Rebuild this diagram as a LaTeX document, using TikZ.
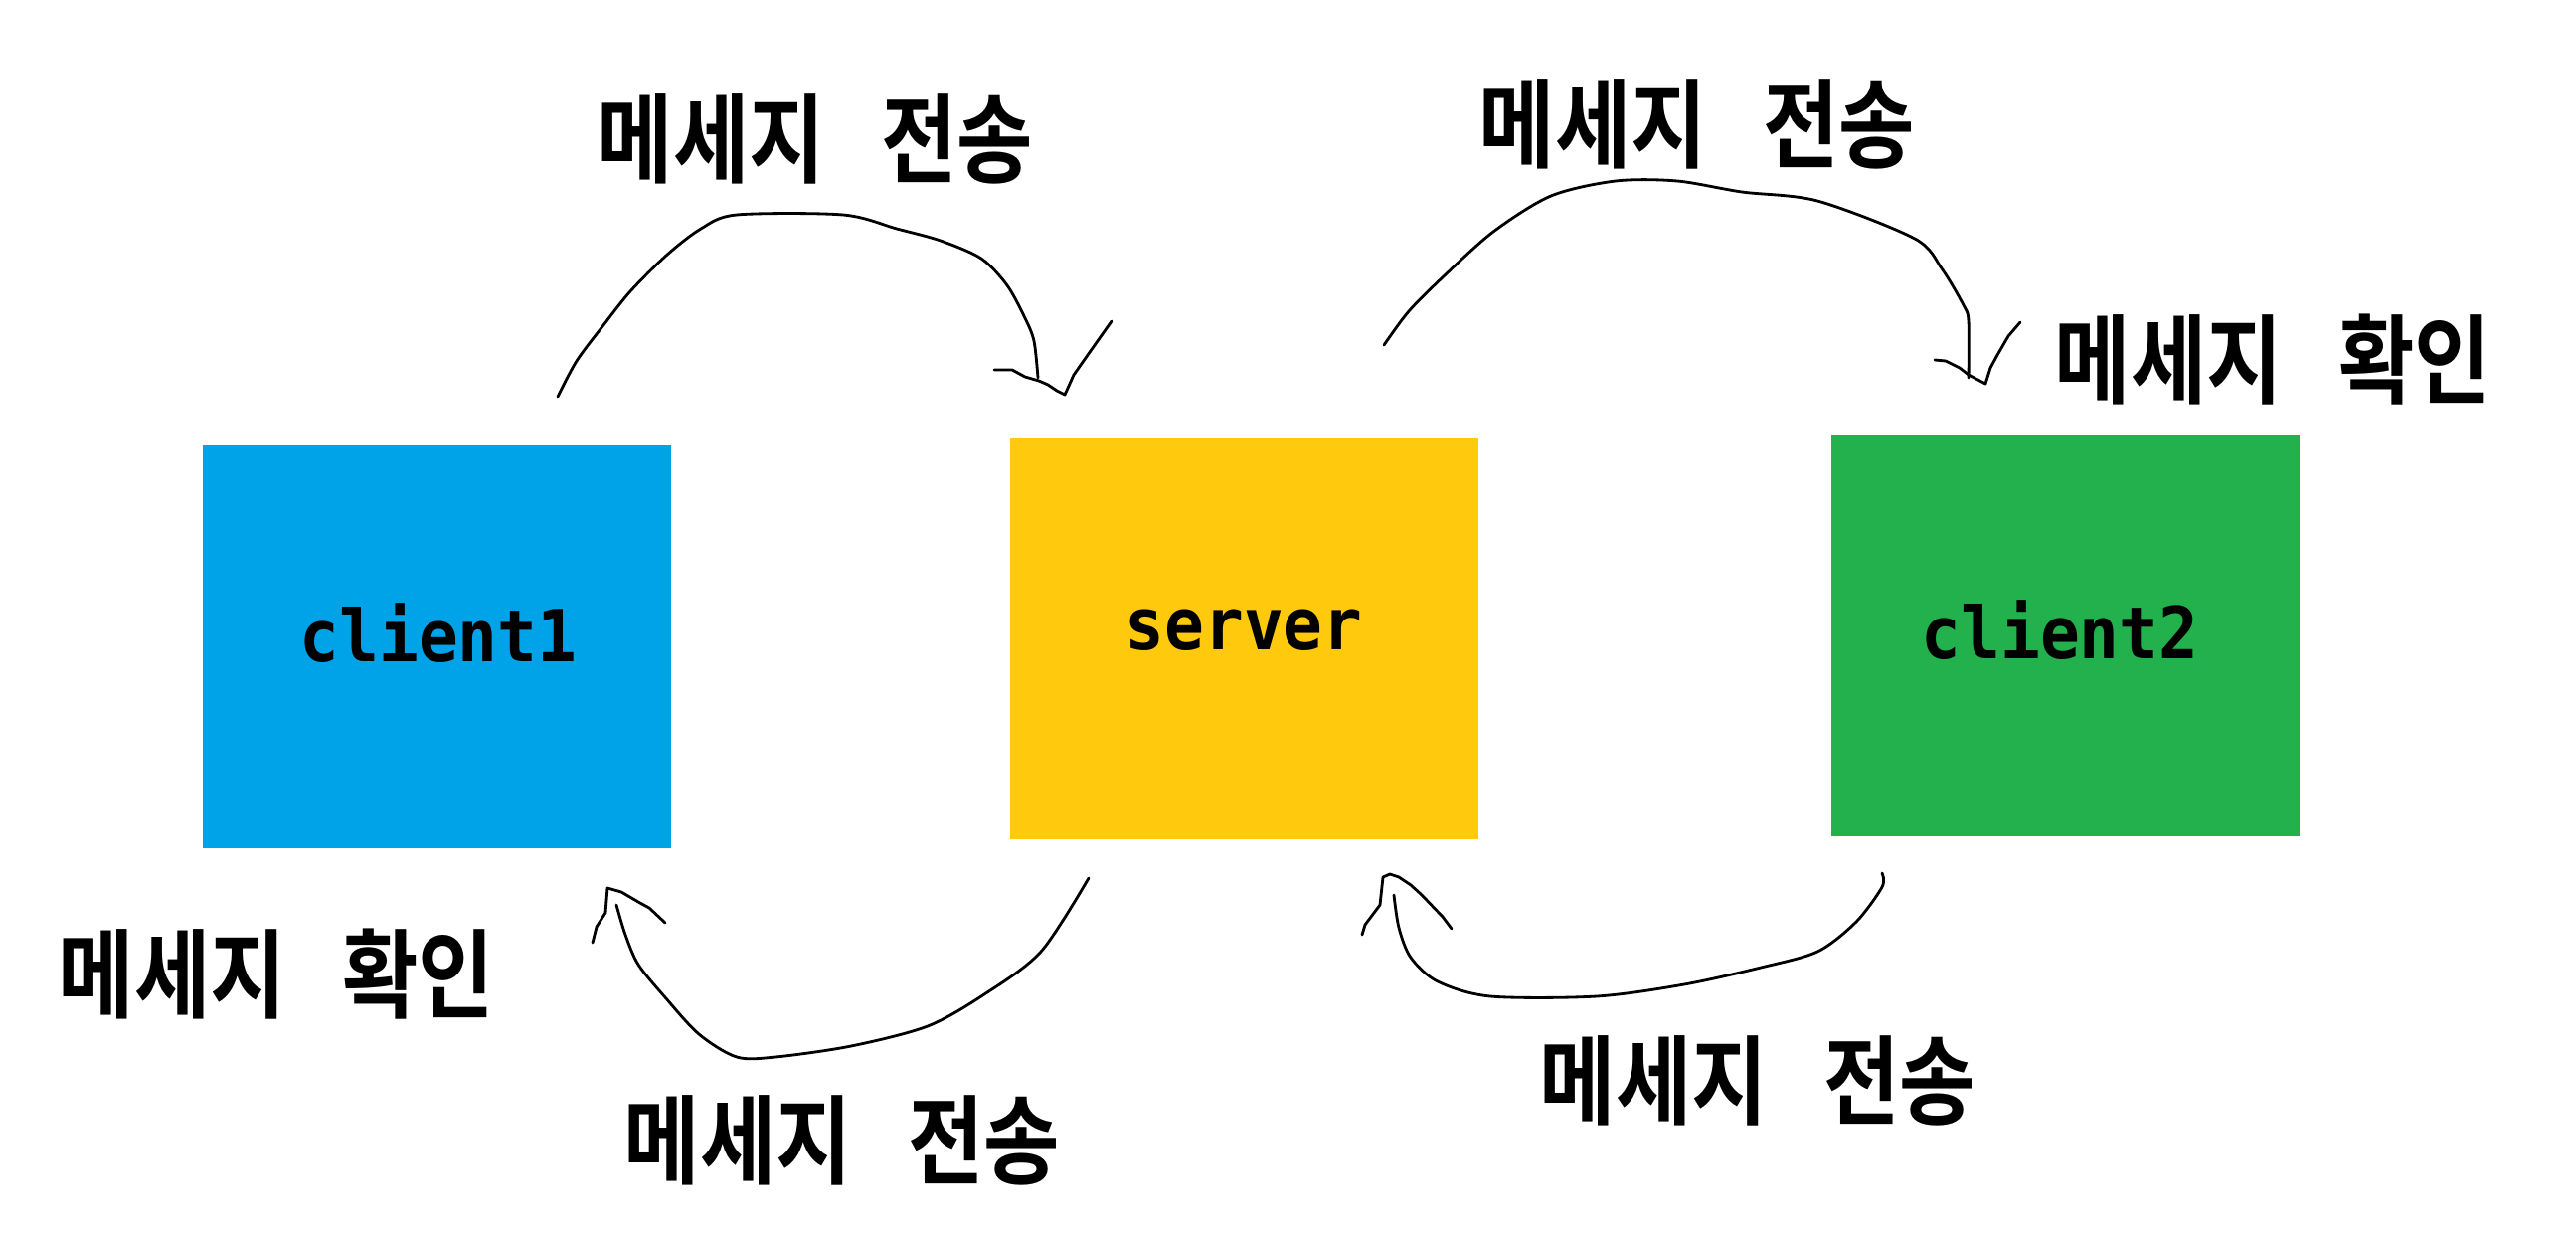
\documentclass[tikz,border=0pt]{standalone}
\usepackage{fontspec}
\newfontfamily\krfont{Noto Sans CJK KR}[UprightFont=* Bold, FakeStretch=0.85, WordSpace=3]
\newfontfamily\boxfont{DejaVu Sans Mono}[UprightFont=* Bold, FakeStretch=0.913]
\definecolor{paintblue}{RGB}{0,162,232}
\definecolor{paintgold}{RGB}{255,201,14}
\definecolor{paintgreen}{RGB}{34,177,76}
\tikzset{
  box/.style={draw=none, inner sep=0pt, minimum width=4.71cm, minimum height=4.05cm, anchor=north west},
  boxtext/.style={inner sep=0pt, font=\boxfont\fontsize{20.6pt}{24pt}\selectfont, anchor=base},
  krlabel/.style={inner sep=0pt, font=\krfont\fontsize{27.8pt}{33pt}\selectfont},
  hand/.style={line width=0.8pt, line join=round, line cap=round, black},
}
\begin{document}
\begin{tikzpicture}[x=0.01cm, y=-0.01cm]
\useasboundingbox (0,0) rectangle (2591,1245);
% boxes
\node[box, fill=paintblue] (c1) at (203,447) {};
\node[box, fill=paintgold, minimum height=4.04cm] (srv) at (1015,439) {};
\node[box, fill=paintgreen, minimum height=4.04cm] (c2) at (1841,436) {};
\node[boxtext] (c1t) at (441,665) {client1};
\node[boxtext] (srvt) at (1251,653) {server};
\node[boxtext] (c2t) at (2072,662) {client2};
% labels
\node[krlabel] (l1) at (820,140) {메세지 전송};
\node[krlabel] (l2) at (1707,125) {메세지 전송};
\node[krlabel] (l3) at (2286,362) {메세지 확인};
\node[krlabel] (l4) at (278,980) {메세지 확인};
\node[krlabel] (l5) at (847,1147) {메세지 전송};
\node[krlabel] (l6) at (1768,1087) {메세지 전송};
% arrow endpoints
\coordinate (aS) at (561,399); \coordinate (aE) at (1044,380);
\coordinate (bS) at (1392,347); \coordinate (bE) at (1980,380);
\coordinate (cS) at (1095,883); \coordinate (cE) at (620,910);
\coordinate (dS) at (1893,878); \coordinate (dE) at (1402,900);
% arrow A: client1 -> server (top)
\draw[hand] plot[smooth] coordinates {(aS) (580,363) (607,327) (634,293) (670,257) (705,230) (741,216) (848,216) (902,230) (946,242) (987,260) (1013,287) (1031,320) (1040,343) (aE)};
\draw[hand] (1000,372) -- (1018,372) -- (1031,379) -- (1045,383) -- (1054,387) -- (1063,393) -- (1071,397) -- (1080,377) -- (1094,357) -- (1118,323);
% arrow B: server -> client2 (top)
\draw[hand] plot[smooth] coordinates {(bS) (1417,313) (1453,277) (1502,233) (1560,197) (1625,182) (1687,182) (1752,193) (1828,202) (1926,240) (1953,270) (1975,307) (1980,323) (bE)};
\draw[hand] (1946,362) -- (1957,363) -- (1971,370) -- (1980,377) -- (1997,386) -- (2002,370) -- (2009,357) -- (2020,338) -- (2032,324);
% arrow C: server -> client1 (bottom)
\draw[hand] plot[smooth] coordinates {(cS) (1047,957) (990,1000) (933,1032) (856,1052) (780,1063) (741,1063) (703,1040) (669,1003) (642,970) (629,940) (cE)};
\draw[hand] (596,948) -- (600,932) -- (609,918) -- (611,893) -- (625,897) -- (642,907) -- (653,913) -- (669,928);
% arrow D: client2 -> server (bottom)
\draw[hand] plot[smooth] coordinates {(dS) (1893,892) (1867,927) (1828,957) (1771,973) (1694,990) (1606,1002) (1499,1002) (1446,987) (1419,963) (1407,933) (dE)};
\draw[hand] (1370,940) -- (1373,930) -- (1388,910) -- (1391,882) -- (1398,879) -- (1407,882) -- (1419,890) -- (1430,900) -- (1451,922) -- (1460,934);
\end{tikzpicture}
\end{document}
